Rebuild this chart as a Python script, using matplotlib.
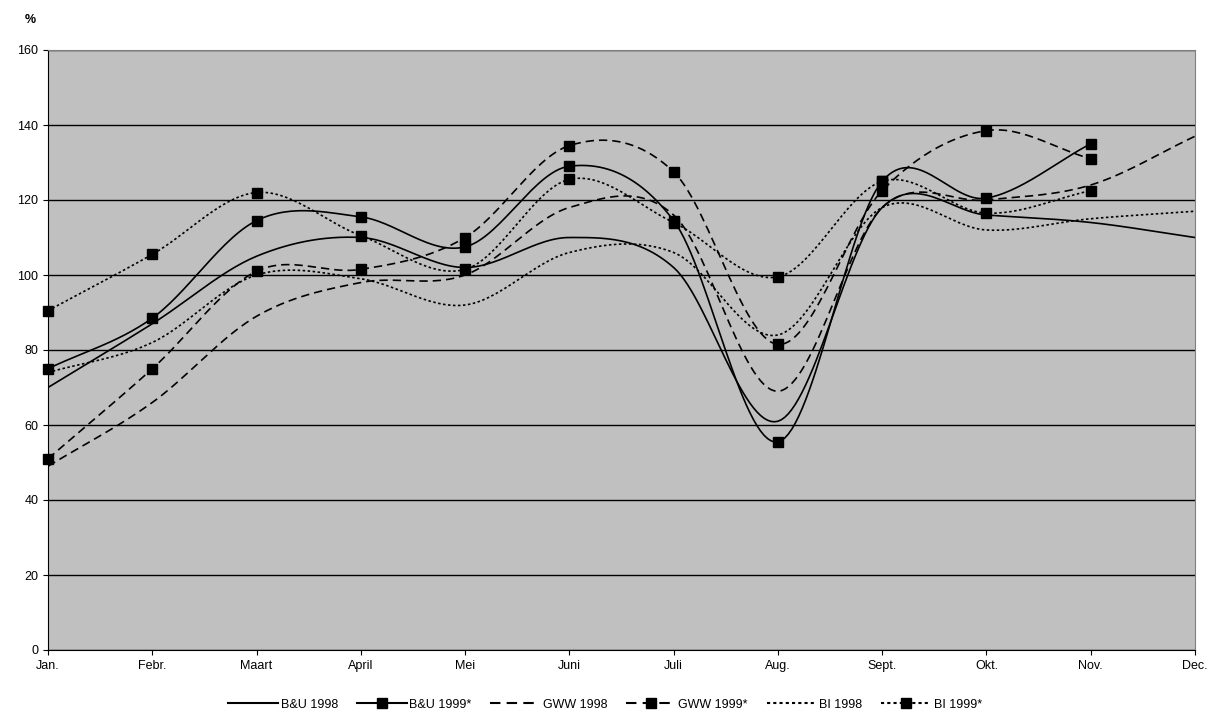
import numpy as np
import matplotlib.pyplot as plt

plt.rcParams['font.family'] = ['Liberation Sans', 'DejaVu Sans']

months = ['Jan.', 'Febr.', 'Maart', 'April', 'Mei', 'Juni', 'Juli', 'Aug.',
          'Sept.', 'Okt.', 'Nov.', 'Dec.']

bu_1998 = [70, 87, 105, 110, 102, 110, 102, 61, 118, 116, 114, 110]
bu_1999 = [75, 88.5, 114.5, 115.5, 107.5, 129, 114.5, 55.5, 125, 120.5, 135]
gww_1998 = [49, 66, 89, 98, 100, 118, 116, 69, 118, 120, 124, 137]
gww_1999 = [51, 75, 101, 101.5, 110, 134.5, 127.5, 81.5, 122.5, 138.5, 131]
bi_1998 = [74, 82, 100, 99, 92, 106, 106, 84, 118, 112, 115, 117]
bi_1999 = [90.5, 105.5, 122, 110.5, 101.5, 125.5, 114, 99.5, 125, 116.5, 122.5]


def smooth(y, n=30):
    # Catmull-Rom, like Excel's smoothed line
    y = np.asarray(y, float)
    p = np.concatenate([[2 * y[0] - y[1]], y, [2 * y[-1] - y[-2]]])
    xs, ys = [], []
    for i in range(len(y) - 1):
        t = np.linspace(0, 1, n, endpoint=False)
        p0, p1, p2, p3 = p[i], p[i + 1], p[i + 2], p[i + 3]
        v = 0.5 * (2 * p1 + (-p0 + p2) * t + (2 * p0 - 5 * p1 + 4 * p2 - p3) * t ** 2
                   + (-p0 + 3 * p1 - 3 * p2 + p3) * t ** 3)
        xs.append(i + t)
        ys.append(v)
    xs.append([len(y) - 1])
    ys.append([y[-1]])
    return np.concatenate(xs), np.concatenate(ys)


fig = plt.figure(figsize=(12.1, 7.22), dpi=100)
ax = fig.add_axes([48 / 1210, 72 / 722, 1147 / 1210, 600 / 722])
ax.set_facecolor('#C0C0C0')

series = [
    ('B&U 1998', bu_1998, '-', False),
    ('B&U 1999*', bu_1999, '-', True),
    ('GWW 1998', gww_1998, (0, (5, 3)), False),
    ('GWW 1999*', gww_1999, (0, (5, 3)), True),
    ('BI 1998', bi_1998, (0, (1.5, 1.5)), False),
    ('BI 1999*', bi_1999, (0, (1.5, 1.5)), True),
]
handles = []
for name, vals, ls, mk in series:
    xs, ys = smooth(vals)
    ax.plot(xs, ys, color='black', ls=ls, lw=1.2)
    if mk:
        ax.plot(range(len(vals)), vals, 's', color='black', ms=7.5, ls='none',
                clip_on=False, zorder=5)
    h, = ax.plot([], [], color='black', ls=ls, lw=1.5,
                 marker='s' if mk else None, ms=7.5)
    h.set_label(name)
    handles.append(h)

ax.set_xlim(0, 11)
ax.set_ylim(0, 160)
ax.set_yticks(range(0, 161, 20))
ax.set_xticks(range(12))
ax.set_xticklabels(months)
ax.yaxis.grid(True, color='black', lw=1)
ax.set_axisbelow(True)
for s in ['top', 'right']:
    ax.spines[s].set_color('#808080')
ax.tick_params(labelsize=9, direction='out')
ax.text(-0.02, 1.045, '%', transform=ax.transAxes, fontsize=9, fontweight='bold')
fig.legend(handles=handles, loc='lower center', ncol=6, frameon=False,
           fontsize=9, bbox_to_anchor=(0.5, 0.0), handlelength=4, columnspacing=1.5,
           handletextpad=0.2)
fig.savefig('out.png')
